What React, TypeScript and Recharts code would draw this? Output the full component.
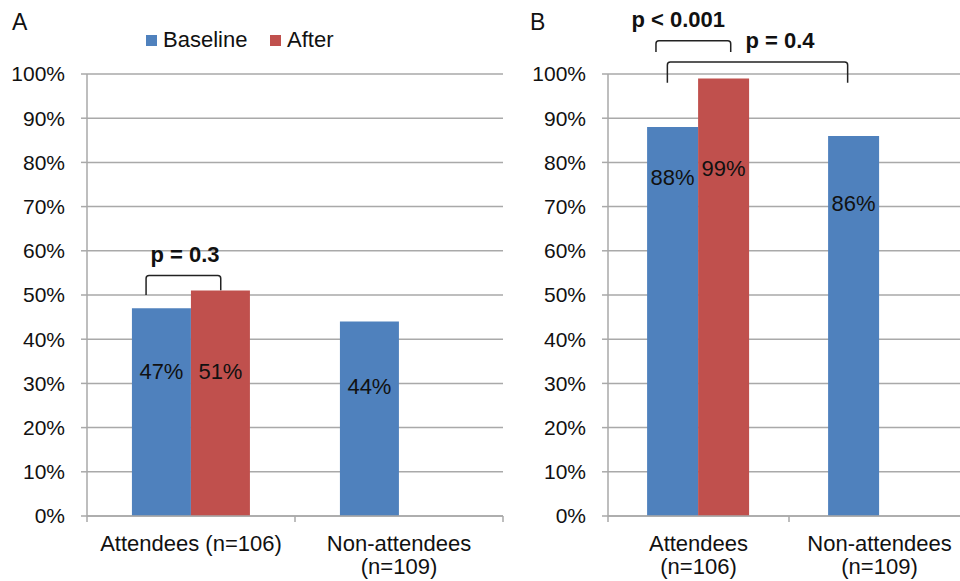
import React from 'react';
import { BarChart, Bar, XAxis, YAxis, CartesianGrid, LabelList } from 'recharts';

// ---------- data ----------
const categories = ['Attendees (n=106)', 'Non-attendees (n=109)'];
const baselineA = [47, 44];
const afterA: (number | null)[] = [51, null];
const baselineB = [88, 86];
const afterB: (number | null)[] = [99, null];
const yTicks = [0, 10, 20, 30, 40, 50, 60, 70, 80, 90, 100];
const tickLinesA = [['Attendees (n=106)'], ['Non-attendees', '(n=109)']];
const tickLinesB = [['Attendees', '(n=106)'], ['Non-attendees', '(n=109)']];
const seriesNames = ['Baseline', 'After'];

const dataA = categories.map((c, i) => ({ cat: c, baseline: baselineA[i], after: afterA[i] }));
const dataB = categories.map((c, i) => ({ cat: c, baseline: baselineB[i], after: afterB[i] }));

// ---------- style / layout ----------
const FONT = '"Liberation Sans", Arial, Helvetica, sans-serif';
const BLUE = '#4f81bd';
const RED = '#c0504d';
const GRID = '#a9a9a9';
const PLOT_TOP = 74;
const PLOT_BOTTOM = 516;
const PX_PER_UNIT = (PLOT_BOTTOM - PLOT_TOP) / 100;

// label centres (in value units) for each bar's data label
const LABEL_POS = {
  A: { baseline: [32.9, 29.3], after: [32.9, 0] },
  B: { baseline: [76.7, 70.9], after: [78.7, 0] },
};

const makeLabel = (centers: number[]) => (props: any) => {
  const { x, y, width, height, value, index } = props;
  if (value == null) return null;
  const v = Number(value);
  const unit = height / v;
  const cy = y + height - centers[index] * unit;
  return (
    <text x={x + width / 2} y={cy} dy="0.36em" textAnchor="middle" fontSize={22} fill="#111" fontFamily={FONT}>
      {`${v}%`}
    </text>
  );
};

const makeTick = (lines: string[][]) => (props: any) => {
  const { x, payload } = props;
  const ls = lines[payload.index] || [String(payload.value)];
  return (
    <g>
      {ls.map((l, i) => (
        <text key={i} x={x} y={PLOT_BOTTOM + 35 + i * 23} textAnchor="middle" fontSize={22} fill="#111" fontFamily={FONT}>
          {l}
        </text>
      ))}
    </g>
  );
};

type PanelProps = {
  data: any[];
  width: number;
  yAxisWidth: number;
  marginRight: number;
  lines: string[][];
  labels: { baseline: number[]; after: number[] };
};

const Panel = ({ data, width, yAxisWidth, marginRight, lines, labels }: PanelProps) => (
  <BarChart
    width={width}
    height={581}
    data={data}
    margin={{ top: PLOT_TOP, right: marginRight, bottom: 0, left: 0 }}
    barCategoryGap="21.6%"
    barGap={0}
  >
    <CartesianGrid vertical={false} stroke={GRID} strokeWidth={1.5} />
    <XAxis
      dataKey="cat"
      height={581 - PLOT_BOTTOM}
      tickLine={false}
      axisLine={{ stroke: GRID, strokeWidth: 1.5 }}
      tick={makeTick(lines)}
      interval={0}
    />
    <YAxis
      width={yAxisWidth}
      domain={[0, 100]}
      ticks={yTicks}
      interval={0}
      tickFormatter={(v: number) => `${v}%`}
      tickSize={6}
      tickMargin={16}
      tickLine={{ stroke: GRID, strokeWidth: 1.5 }}
      axisLine={{ stroke: GRID, strokeWidth: 1.5 }}
      tick={{ fontSize: 21, fill: '#111', fontFamily: FONT }}
    />
    <Bar dataKey="baseline" name={seriesNames[0]} fill={BLUE} isAnimationActive={false}>
      <LabelList dataKey="baseline" content={makeLabel(labels.baseline)} />
    </Bar>
    <Bar dataKey="after" name={seriesNames[1]} fill={RED} isAnimationActive={false}>
      <LabelList dataKey="after" content={makeLabel(labels.after)} />
    </Bar>
  </BarChart>
);

// bracket helper (annotation overlay)
const bracket = (lx: number, rx: number, top: number, lb: number, rb: number, r = 3) =>
  `M${lx},${lb} L${lx},${top + r} Q${lx},${top} ${lx + r},${top} L${rx - r},${top} Q${rx},${top} ${rx},${top + r} L${rx},${rb}`;

const xA = (u: number) => 87 + u * 208;
const xB = (u: number) => 608 + u * 181;
const yv = (v: number) => PLOT_BOTTOM - v * PX_PER_UNIT;

export default function App() {
  return (
    <div
      style={{
        position: 'absolute',
        left: 0,
        top: 0,
        width: 960,
        height: 581,
        overflow: 'hidden',
        background: '#fff',
        fontFamily: FONT,
      }}
    >
      <div style={{ position: 'absolute', left: 0, top: 0 }}>
        <Panel data={dataA} width={520} yAxisWidth={87} marginRight={17} lines={tickLinesA} labels={LABEL_POS.A} />
      </div>
      <div style={{ position: 'absolute', left: 504, top: 0 }}>
        <Panel data={dataB} width={466} yAxisWidth={104} marginRight={0} lines={tickLinesB} labels={LABEL_POS.B} />
      </div>
      <svg
        width={960}
        height={581}
        style={{ position: 'absolute', left: 0, top: 0, pointerEvents: 'none' }}
        fontFamily={FONT}
      >
        {/* panel letters */}
        <text x={12} y={30} fontSize={23} fill="#111">A</text>
        <text x={530} y={30} fontSize={23} fill="#111">B</text>

        {/* legend */}
        <rect x={146} y={35} width={11} height={11} fill={BLUE} />
        <text x={163} y={47} fontSize={22} fill="#111">{seriesNames[0]}</text>
        <rect x={270} y={35} width={11} height={11} fill={RED} />
        <text x={287} y={47} fontSize={22} fill="#111">{seriesNames[1]}</text>

        {/* category boundary ticks on x axes */}
        {[0, 1, 2].map((k) => (
          <line key={`ta${k}`} x1={xA(k)} x2={xA(k)} y1={PLOT_BOTTOM} y2={PLOT_BOTTOM + 6} stroke={GRID} strokeWidth={1.5} />
        ))}
        {[0, 1].map((k) => (
          <line key={`tb${k}`} x1={xB(k)} x2={xB(k)} y1={PLOT_BOTTOM} y2={PLOT_BOTTOM + 6} stroke={GRID} strokeWidth={1.5} />
        ))}

        {/* significance brackets */}
        <path d={bracket(xA(0.284), xA(0.643), yv(54.4), yv(50), yv(51.1))} fill="none" stroke="#222" strokeWidth={1.5} />
        <text x={xA(0.471)} y={yv(57.5)} textAnchor="middle" fontSize={22} fontWeight="bold" fill="#111">p = 0.3</text>

        <path d={bracket(xB(0.265), xB(0.678), yv(107.5), yv(105), yv(105))} fill="none" stroke="#222" strokeWidth={1.5} />
        <text x={xB(0.388)} y={yv(110.7)} textAnchor="middle" fontSize={22} fontWeight="bold" fill="#111">p &lt; 0.001</text>

        <path d={bracket(xB(0.328), xB(1.324), yv(102.7), yv(98), yv(98))} fill="none" stroke="#222" strokeWidth={1.5} />
        <text x={xB(0.95)} y={yv(105.8)} textAnchor="middle" fontSize={22} fontWeight="bold" fill="#111">p = 0.4</text>
      </svg>
    </div>
  );
}
